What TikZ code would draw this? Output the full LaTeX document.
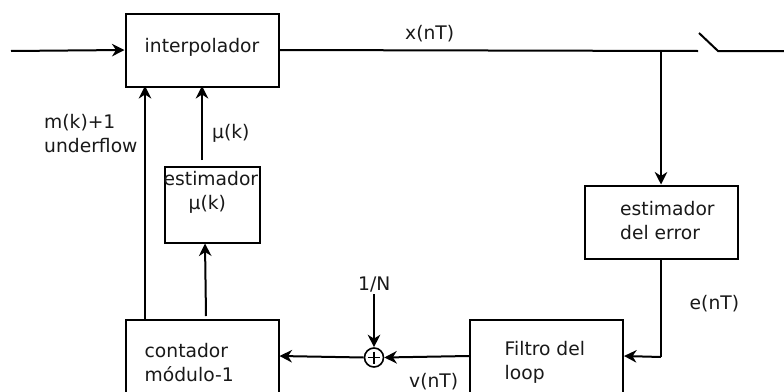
\documentclass[tikz,border=0pt]{standalone}
\usepackage{fontspec}
\setmainfont{DejaVu Sans}
\usetikzlibrary{arrows.meta}
\tikzset{
  block/.style={draw=black,line width=2pt,minimum width=153pt,inner sep=0pt,anchor=north west},
  lbl/.style={anchor=base west,inner sep=0pt,font=\fontsize{18.7pt}{20pt}\selectfont,text=black!90},
  conn/.style={draw=black,line width=2pt},
  arr/.style={conn,-{Stealth[length=12.5pt,width=12.5pt,inset=4pt]}},
  sumnode/.style={circle,draw=black,line width=1.6pt,minimum size=19pt,inner sep=0pt}
}
\begin{document}
\begin{tikzpicture}[x=1pt,y=-1pt]
\useasboundingbox (0,0) rectangle (784,391);
\clip (0,0) rectangle (784,391);
\fill[white] (0,0) rectangle (784,391);
% blocks
\node[block,minimum height=73pt] (interp) at (124.5,12.5) {};
\node[block,minimum width=95pt,minimum height=76pt] (estmu) at (163.5,165.5) {};
\node[block,minimum height=90pt] (cont) at (124.5,318.5) {};
\node[block,minimum height=73pt] (esterr) at (583.5,184.5) {};
\node[block,minimum height=90pt] (filt) at (469,318.5) {};
\node[sumnode] (sum) at (374,357.5) {};
\draw[line width=1.1pt] (368,357.5) -- (380,357.5) (374,351.5) -- (374,363.5);
% free ends
\coordinate (in) at (11,51);
\coordinate (swa) at (698,51);
\coordinate (swt) at (699,33);
\coordinate (swb) at (718,51);
\coordinate (out) at (784,51);
\coordinate (junc) at (661,51);
\coordinate (corner) at (661,357);
\coordinate (nin) at (374,294);
\coordinate (mutop) at (202,160);
\coordinate (contup) at (206,316);
% connectors
\draw[arr] (in) -- (interp.west |- 0,50);
\draw[conn] (interp.east |- 0,50) -- (swa);
\draw[conn] (swt) -- (swb) -- (out);
\draw[arr] (junc) -- (esterr.north);
\draw[conn] (esterr.south) -- (corner);
\draw[arr] (corner) -- (filt.east |- 0,356);
\draw[arr] (filt.west |- 0,356) -- (sum.east);
\draw[arr] (sum.west) -- (cont.east |- 0,356);
\draw[arr] (nin) -- (sum.north);
\draw[arr] (cont.north -| 145,0) -- ([yshift=1.5pt]interp.south -| 145,0);
\draw[arr] (mutop) -- ([yshift=1.5pt]interp.south -| 202,0);
\draw[arr] (contup) -- (estmu.south -| 205,0);
% labels
\node[lbl] (t1) at (144.5,52) {interpolador};
\node[lbl] (t2) at (405,39) {x(nT)};
\node[lbl] (t3) at (44,128.5) {m(k)+1};
\node[lbl] (t4) at (44,152.5) {underflow};
\node[lbl] (t5) at (212,138) {µ(k)};
\node[lbl] (t6) at (163.5,185.5) {estimador};
\node[lbl] (t7) at (188.5,209.5) {µ(k)};
\node[lbl] (t8) at (620,215.5) {estimador};
\node[lbl] (t9) at (620,239) {del error};
\node[lbl] (t10) at (689.5,309) {e(nT)};
\node[lbl] (t11) at (358,290) {1/N};
\node[lbl] (t12) at (144.5,357.5) {contador};
\node[lbl] (t13) at (144.5,381.5) {módulo-1};
\node[lbl] (t14) at (409,387) {v(nT)};
\node[lbl] (t15) at (504.5,355.5) {Filtro del};
\node[lbl] (t16) at (504.5,379) {loop};
\end{tikzpicture}
\end{document}
